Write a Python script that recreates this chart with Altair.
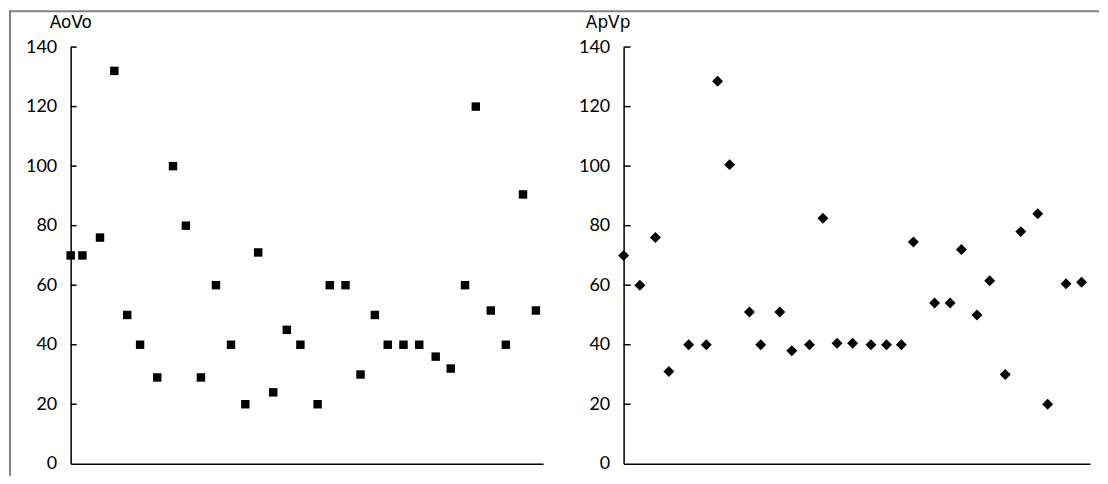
import altair as alt
import pandas as pd

# AoVo panel (left): estimated x positions (patient order) and values
ao_x = [0, 0.82, 2.05, 3.05, 3.95, 4.85, 6.05, 7.15, 8.05, 9.1, 10.15, 11.2, 12.2, 13.1,
        14.15, 15.1, 16.05, 17.25, 18.1, 19.2, 20.25, 21.25, 22.15, 23.25, 24.35, 25.5,
        26.55, 27.55, 28.3, 29.35, 30.4, 31.6, 32.5]
ao_y = [70, 70, 76, 132, 50, 40, 29, 100, 80, 29, 60, 40, 20, 71, 24, 45, 40, 20, 60, 60,
        30, 50, 40, 40, 40, 36, 32, 60, 120, 51.5, 40, 90.5, 51.5]

# ApVp panel (right)
ap_x = [0, 1.15, 2.25, 3.2, 4.6, 5.85, 6.65, 7.5, 8.9, 9.7, 11.05, 11.9, 13.15, 14.1,
        15.1, 16.2, 17.5, 18.6, 19.65, 20.5, 22.0, 23.1, 23.9, 25.0, 25.9, 27.0, 28.1,
        29.3, 30.0, 31.3, 32.4]
ap_y = [70, 60, 76, 31, 40, 40, 128.5, 100.5, 51, 40, 51, 38, 40, 82.5, 40.5, 40.5, 40,
        40, 40, 74.5, 54, 54, 72, 50, 61.5, 30, 78, 84, 20, 60.5, 61]

tick_values = [0, 20, 40, 60, 80, 100, 120, 140]
titles = ["AoVo", "ApVp"]

yscale = alt.Scale(domain=[0, 140], nice=False)
xscale = alt.Scale(domain=[0, 33], nice=False)

yaxis = alt.Axis(values=tick_values, ticks=False, grid=False, title=None,
                 labelPadding=14, labelFont="Lato", labelFontSize=18,
                 labelColor="black", domainColor="black", domainWidth=1.5)
xaxis = alt.Axis(labels=False, ticks=False, grid=False, title=None,
                 domainColor="black", domainWidth=1.5)


def panel(xs, ys, shape, size, title, width, title_dx, tick_len, border=False):
    df = pd.DataFrame({"x": xs, "y": ys})
    pts = alt.Chart(df).mark_point(
        shape=shape, filled=True, color="black", size=size, opacity=1
    ).encode(
        x=alt.X("x:Q", scale=xscale, axis=xaxis),
        y=alt.Y("y:Q", scale=yscale, axis=yaxis),
    )
    ticks = alt.Chart(pd.DataFrame({"y": tick_values[1:]})).mark_tick(
        color="black", thickness=1.5, size=tick_len, orient="horizontal",
        opacity=1, xOffset=tick_len / 2
    ).encode(
        y=alt.Y("y:Q", scale=yscale, axis=yaxis),
        x=alt.X("z:Q", scale=xscale, axis=xaxis),
    ).transform_calculate(z="0")
    ttl = alt.Chart(pd.DataFrame({"t": [title]})).mark_text(
        align="left", baseline="alphabetic", font="DejaVu Sans",
        fontSize=17, color="black"
    ).encode(text="t:N", x=alt.value(title_dx), y=alt.value(-19))
    layers = [pts, ticks, ttl]
    if border:
        one = pd.DataFrame({"a": [0]})
        left_b = alt.Chart(one).mark_rule(color="#808080", strokeWidth=2).encode(
            x=alt.value(-61), y=alt.value(-37), y2=alt.value(431))
        top_b = alt.Chart(one).mark_rule(color="#808080", strokeWidth=2).encode(
            x=alt.value(-62), x2=alt.value(1034), y=alt.value(-36))
        layers += [left_b, top_b]
    return alt.layer(*layers).properties(width=width, height=419)


left = panel(ao_x, ao_y, "square", 72, titles[0], 475, -21, 6, border=True)
right = panel(ap_x, ap_y, "diamond", 121, titles[1], 469, -38, 7)

chart = alt.hconcat(left, right, spacing=81, bounds="flush").properties(
    padding=0
).configure_view(stroke=None)

chart.save("out.html", embed_options={"renderer": "svg", "actions": False})
